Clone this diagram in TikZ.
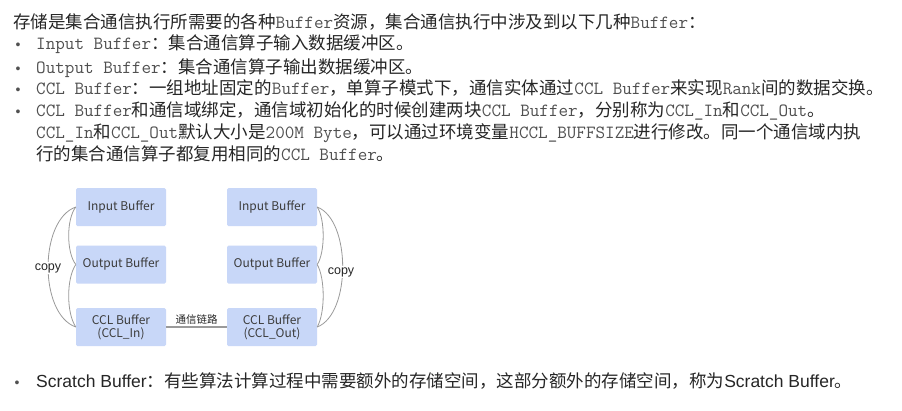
\documentclass[tikz,border=0pt]{standalone}
\usepackage{fontspec}
\setmainfont{Liberation Sans}
\newfontfamily\cjkf{Noto Sans CJK SC}
\newcommand{\monof}{\ttfamily}
\definecolor{boxblue}{HTML}{C8D7F8}
\definecolor{txt}{HTML}{262626}
\definecolor{monogray}{HTML}{505050}
\definecolor{linegray}{HTML}{9A9A9A}
\newcommand{\zh}[1]{{\cjkf\fontsize{17.5pt}{21pt}\selectfont #1}}
\newcommand{\mn}[1]{{\monof\fontsize{18.6pt}{21pt}\selectfont\color{monogray}#1}}
\newcommand{\bul}{{\fontsize{14pt}{16pt}\selectfont\color{txt!80}\textbullet}}
\begin{document}
\begin{tikzpicture}[x=1pt,y=-1pt,
  textline/.style={anchor=base west,inner sep=0pt,text=txt},
  bulletmark/.style={anchor=base,inner sep=0pt},
  bufbox/.style={draw=none,fill=boxblue,rounded corners=1.5pt,minimum width=90pt,minimum height=38pt,inner sep=0pt,text=txt!90,font=\cjkf\fontsize{12pt}{13.3pt}\selectfont,align=center},
  arc/.style={draw=linegray,line width=0.8pt},
  copylabel/.style={fill=white,inner sep=1pt,text=txt,font=\fontsize{12.5pt}{14pt}\selectfont}]
\useasboundingbox[fill=white] (0,0) rectangle (902,410);

% top text
\node[textline] (l1) at (13,28) {\zh{存储是集合通信执行所需要的各种}\mn{Buffer}\zh{资源，集合通信执行中涉及到以下几种}\mn{Buffer}\zh{：}};
\node[bulletmark] (b2) at (18,49.5) {\bul};
\node[textline] (l2) at (36,49.5) {\mn{Input Buffer}\zh{：集合通信算子输入数据缓冲区。}};
\node[bulletmark] (b3) at (18,73.5) {\bul};
\node[textline] (l3) at (36,73.5) {\mn{Output Buffer}\zh{：集合通信算子输出数据缓冲区。}};
\node[bulletmark] (b4) at (18,94.5) {\bul};
\node[textline] (l4) at (36,94.5) {\mn{CCL Buffer}\zh{：一组地址固定的}\mn{Buffer}\zh{，单算子模式下，通信实体通过}\mn{CCL Buffer}\zh{来实现}\mn{Rank}\zh{间的数据交换。}};
\node[bulletmark] (b5) at (18,116.5) {\bul};
\node[textline] (l5) at (36,116.5) {\mn{CCL Buffer}\zh{和通信域绑定，通信域初始化的时候创建两块}\mn{CCL Buffer}\zh{，分别称为}\mn{CCL\_In}\zh{和}\mn{CCL\_Out}\zh{。}};
\node[textline] (l6) at (36,138.5) {\mn{CCL\_In}\zh{和}\mn{CCL\_Out}\zh{默认大小是}\mn{200M Byte}\zh{，可以通过环境变量}\mn{HCCL\_BUFFSIZE}\zh{进行修改。同一个通信域内执}};
\node[textline] (l7) at (36,160) {\zh{行的集合通信算子都复用相同的}\mn{CCL Buffer}\zh{。}};

% boxes
\node[bufbox] (inL) at (121,207) {Input Buffer};
\node[bufbox] (outL) at (121,264.5) {Output Buffer};
\node[bufbox] (cclL) at (121,327) {CCL Buffer\\(CCL\_In)};
\node[bufbox] (inR) at (272,207) {Input Buffer};
\node[bufbox] (outR) at (272,264.5) {Output Buffer};
\node[bufbox] (cclR) at (272,327) {CCL Buffer\\(CCL\_Out)};

% link
\draw[draw=linegray,line width=1.1pt] (cclL.east) -- node[midway,above,inner sep=2pt,text=txt,font=\cjkf\fontsize{10.5pt}{12pt}\selectfont] (link) {通信链路} (cclR.west);

% left copy curves
\draw[arc] (inL.west) .. controls +(-37,13) and +(-37,-13) .. (cclL.west);
\draw[arc] (inL.west) .. controls +(-9.5,12) and +(-9.5,-12) .. (outL.west);
\draw[arc] (outL.west) .. controls +(-9.5,14) and +(-9.5,-14) .. (cclL.west);
\node[copylabel] (copyL) at (48,268) {copy};

% right copy curves
\draw[arc] (inR.east) .. controls +(34,13) and +(34,-13) .. (cclR.east);
\draw[arc] (inR.east) .. controls +(8,12) and +(8,-12) .. (outR.east);
\draw[arc] (outR.east) .. controls +(8,14) and +(8,-14) .. (cclR.east);
\node[copylabel] (copyR) at (341,272) {copy};

% bottom line
\node[bulletmark] (b8) at (17,387.5) {\bul};
\node[textline] (l8) at (36,387.5) {{\fontsize{17.5pt}{21pt}\selectfont Scratch Buffer}\zh{：有些算法计算过程中需要额外的存储空间，这部分额外的存储空间，称为}{\fontsize{17.5pt}{21pt}\selectfont Scratch Buffer}\zh{。}};
\end{tikzpicture}
\end{document}
